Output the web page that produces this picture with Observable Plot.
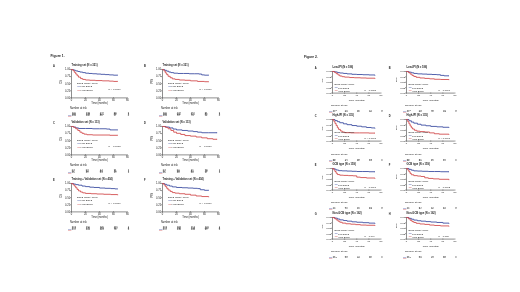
<!DOCTYPE html>
<html><head><meta charset="utf-8">
<script src="https://cdn.jsdelivr.net/npm/d3@7"></script>
<script src="https://cdn.jsdelivr.net/npm/@observablehq/plot@0.6"></script>
<style>
html,body{margin:0;padding:0;background:#fff;}
body{width:520px;height:292px;overflow:hidden;position:relative;font-family:"Liberation Sans",Arial,sans-serif;}
svg{position:absolute;overflow:visible;will-change:transform;}
</style></head><body>
<script>
// ---------- shared labels ----------
const timeTicks = [0, 20, 40, 60, 80];
const survTicks = [0, 0.25, 0.5, 0.75, 1];
const groups = ["Low BCL2", "High BCL2"];
const legendTitle = "BCL2 mRNA score";
const groupColors = ["#3e4fa3", "#d24f50"];
const figureTitles = ["Figure 1.", "Figure 2."];

// ---------- Figure 1 ----------
const fig1Letters = ["A", "B", "C", "D", "E", "F"];
const fig1Titles = ["Training set (N = 321)", "Training set (N = 321)", "Validation set (N = 113)", "Validation set (N = 113)", "Training + Validation set (N = 434)", "Training + Validation set (N = 434)"];
const fig1YLabels = ["OS", "PFS", "OS", "PFS", "OS", "PFS"];
const fig1P = ["P < 0.0001", "P < 0.0001", "P = 0.0075", "P = 0.0066", "P < 0.0001", "P < 0.0001"];

const f1A_low = [[0,1],[2,0.99],[4,0.97],[6,0.95],[9,0.93],[12,0.91],[16,0.89],[20,0.87],[25,0.86],[30,0.85],[36,0.84],[42,0.83],[48,0.82],[54,0.81],[60,0.8],[66,0.8]];
const f1A_high = [[0,1],[2,0.96],[4,0.9],[6,0.84],[8,0.78],[10,0.73],[13,0.68],[16,0.65],[20,0.63],[26,0.62],[34,0.61],[44,0.6],[54,0.59],[60,0.58],[66,0.58]];
const f1B_low = [[0,1],[3,0.97],[6,0.94],[9,0.91],[12,0.89],[16,0.87],[22,0.86],[30,0.86],[38,0.85],[46,0.85],[52,0.84],[56,0.81],[60,0.8],[66,0.8]];
const f1B_high = [[0,1],[2,0.95],[4,0.88],[6,0.82],[8,0.76],[11,0.71],[14,0.67],[18,0.65],[24,0.63],[32,0.62],[40,0.6],[50,0.58],[60,0.57],[66,0.57]];
const f1C_low = [[0,1],[3,0.98],[6,0.95],[10,0.93],[20,0.93],[30,0.92],[40,0.92],[50,0.91],[55,0.88],[66,0.88]];
const f1C_high = [[0,1],[3,0.97],[6,0.92],[9,0.86],[12,0.8],[15,0.76],[18,0.73],[22,0.71],[30,0.7],[45,0.7],[55,0.69],[66,0.69]];
const f1D_low = [[0,1],[5,0.98],[10,0.95],[15,0.91],[20,0.88],[28,0.86],[36,0.84],[44,0.82],[50,0.8],[56,0.78],[66,0.78],[78,0.78]];
const f1D_high = [[0,1],[4,0.97],[8,0.92],[12,0.86],[16,0.8],[20,0.76],[26,0.72],[32,0.68],[40,0.66],[48,0.63],[56,0.6],[64,0.57],[72,0.55],[78,0.55]];
const f1E_low = [[0,1],[3,0.98],[6,0.96],[10,0.94],[15,0.91],[20,0.89],[26,0.87],[32,0.86],[40,0.84],[48,0.83],[56,0.82],[62,0.81],[66,0.81]];
const f1E_high = [[0,1],[2,0.96],[4,0.91],[6,0.85],[8,0.79],[10,0.74],[13,0.7],[16,0.67],[20,0.65],[28,0.64],[36,0.63],[46,0.62],[56,0.61],[66,0.6]];
const f1F_low = [[0,1],[3,0.97],[6,0.94],[10,0.91],[14,0.88],[20,0.86],[28,0.85],[36,0.84],[44,0.83],[50,0.82],[54,0.78],[60,0.76],[66,0.76]];
const f1F_high = [[0,1],[2,0.95],[4,0.89],[6,0.83],[8,0.77],[11,0.72],[14,0.68],[18,0.66],[24,0.64],[32,0.62],[40,0.59],[48,0.56],[56,0.54],[66,0.53]];

const f1A_risk = [[160,138,121,88,3],[161,102,80,57,2]];
const f1B_risk = [[160,132,113,81,3],[161,98,74,52,2]];
const f1C_risk = [[57,52,44,31,1],[56,39,33,19,1]];
const f1D_risk = [[57,50,41,28,1],[56,38,30,17,1]];
const f1E_risk = [[217,190,165,119,4],[217,141,113,76,3]];
const f1F_risk = [[217,182,154,109,4],[217,136,104,69,3]];

// ---------- Figure 2 ----------
const fig2Letters = ["A", "B", "C", "D", "E", "F", "G", "H"];
const fig2Titles = ["Low-IPI (N = 186)", "Low-IPI (N = 186)", "High-IPI (N = 135)", "High-IPI (N = 135)", "GCB type (N = 159)", "GCB type (N = 159)", "Non-GCB type (N = 162)", "Non-GCB type (N = 162)"];
const fig2YLabels = ["OS", "PFS", "OS", "PFS", "OS", "PFS", "OS", "PFS"];
const fig2P = ["P = 0.0021", "P = 0.0096", "P < 0.0001", "P < 0.0001", "P = 0.0017", "P = 0.0002", "P = 0.046", "P = 0.038"];

const f2A_low = [[0,1],[4,0.98],[8,0.95],[12,0.93],[18,0.91],[24,0.89],[32,0.87],[40,0.86],[50,0.85],[60,0.84],[70,0.83]];
const f2A_high = [[0,1],[3,0.96],[6,0.9],[9,0.84],[12,0.79],[16,0.76],[20,0.74],[28,0.72],[36,0.71],[46,0.7],[56,0.69],[70,0.68]];
const f2B_low = [[0,1],[4,0.97],[8,0.94],[12,0.91],[18,0.89],[26,0.88],[34,0.87],[42,0.86],[50,0.85],[56,0.82],[62,0.8],[70,0.8]];
const f2B_high = [[0,1],[3,0.95],[6,0.88],[9,0.82],[12,0.77],[16,0.73],[22,0.7],[30,0.68],[38,0.66],[46,0.64],[56,0.63],[70,0.62]];
const f2C_low = [[0,1],[4,0.95],[8,0.9],[12,0.85],[18,0.8],[24,0.76],[32,0.72],[40,0.69],[48,0.66],[56,0.63],[64,0.61],[70,0.6]];
const f2C_high = [[0,1],[2,0.92],[4,0.82],[6,0.72],[8,0.62],[10,0.54],[13,0.47],[16,0.42],[20,0.39],[30,0.38],[45,0.38],[60,0.37],[70,0.37]];
const f2D_low = [[0,1],[4,0.94],[8,0.88],[12,0.83],[18,0.78],[24,0.74],[32,0.71],[40,0.68],[50,0.66],[60,0.64],[70,0.63]];
const f2D_high = [[0,1],[2,0.9],[4,0.8],[6,0.7],[8,0.62],[10,0.56],[13,0.5],[17,0.46],[22,0.44],[30,0.42],[38,0.38],[46,0.34],[54,0.32],[70,0.31]];
const f2E_low = [[0,1],[3,0.97],[6,0.93],[10,0.9],[16,0.89],[24,0.88],[32,0.87],[40,0.86],[50,0.86],[60,0.85],[70,0.85]];
const f2E_high = [[0,1],[2,0.94],[4,0.86],[6,0.78],[8,0.72],[12,0.69],[18,0.68],[26,0.67],[34,0.66],[40,0.6],[46,0.58],[56,0.56],[70,0.55]];
const f2F_low = [[0,1],[4,0.96],[8,0.92],[12,0.89],[18,0.88],[26,0.87],[36,0.86],[46,0.86],[56,0.85],[70,0.85]];
const f2F_high = [[0,1],[2,0.93],[4,0.85],[6,0.77],[8,0.71],[12,0.67],[18,0.65],[24,0.63],[30,0.57],[36,0.54],[44,0.52],[54,0.5],[70,0.48]];
const f2G_low = [[0,1],[4,0.97],[8,0.93],[12,0.89],[18,0.86],[24,0.83],[32,0.8],[40,0.78],[50,0.76],[60,0.74],[70,0.73]];
const f2G_high = [[0,1],[3,0.95],[6,0.89],[9,0.83],[12,0.78],[16,0.74],[22,0.71],[30,0.69],[38,0.67],[46,0.65],[56,0.64],[70,0.63]];
const f2H_low = [[0,1],[4,0.96],[8,0.92],[12,0.88],[18,0.85],[24,0.83],[32,0.81],[40,0.79],[50,0.77],[60,0.74],[70,0.73]];
const f2H_high = [[0,1],[3,0.94],[6,0.87],[9,0.81],[12,0.77],[16,0.73],[22,0.7],[30,0.68],[38,0.65],[46,0.63],[56,0.61],[70,0.6]];

const f2A_risk = [[107,96,86,64,2],[79,58,50,35,1]];
const f2B_risk = [[107,93,82,60,2],[79,55,46,32,1]];
const f2C_risk = [[53,41,33,22,1],[82,34,27,18,1]];
const f2D_risk = [[53,39,31,20,1],[82,32,24,16,1]];
const f2E_risk = [[99,86,77,57,2],[60,41,34,22,1]];
const f2F_risk = [[99,84,74,54,2],[60,39,31,20,1]];
const f2G_risk = [[61,52,44,30,1],[101,71,58,39,1]];
const f2H_risk = [[61,50,42,28,1],[101,68,54,36,1]];

const fig1Curves = [[f1A_low,f1A_high],[f1B_low,f1B_high],[f1C_low,f1C_high],[f1D_low,f1D_high],[f1E_low,f1E_high],[f1F_low,f1F_high]];
const fig1Risk = [f1A_risk,f1B_risk,f1C_risk,f1D_risk,f1E_risk,f1F_risk];
const fig2Curves = [[f2A_low,f2A_high],[f2B_low,f2B_high],[f2C_low,f2C_high],[f2D_low,f2D_high],[f2E_low,f2E_high],[f2F_low,f2F_high],[f2G_low,f2G_high],[f2H_low,f2H_high]];
const fig2Risk = [f2A_risk,f2B_risk,f2C_risk,f2D_risk,f2E_risk,f2F_risk,f2G_risk,f2H_risk];

// ---------- drawing ----------
const FONT = "'Liberation Sans', Arial, sans-serif";
const color = {domain: groups, range: groupColors};
const INK = "#1a1a1a";

function place(svg, x, y) {
  svg.style.left = x + "px";
  svg.style.top = y + "px";
  svg.style.maxWidth = "none";
  document.body.appendChild(svg);
}

function drawPanel(o) {
  const L = o.geom;
  const ml = 16, mr = 5, mt = 8, mb = 9;
  const lines = [];
  o.curves.forEach((c, gi) => c.forEach(([t, s]) => lines.push({t, s, g: groups[gi]})));
  const T = (txt, opts) => Plot.text([txt], {frameAnchor: "top-left", lineAnchor: "middle", textAnchor: "start", fill: INK, ...opts});
  const extra = [];
  if (o.figTitle) extra.push(T(o.figTitle, {dx: L.figDx, dy: L.figDy, fontWeight: "bold", fontSize: L.figFs}));
  const km = Plot.plot({
    width: L.w + ml + mr, height: L.h + mt + mb,
    marginLeft: ml, marginRight: mr, marginTop: mt, marginBottom: mb,
    style: {fontSize: L.fs + "px", fontFamily: FONT, background: "transparent", color: INK, overflow: "visible"},
    x: {domain: [0, 80]},
    y: {domain: [0, 1]},
    color,
    marks: [
      Plot.axisX({ticks: timeTicks, tickSize: 0.9, tickPadding: 0.5, label: null, fontSize: L.fs, strokeWidth: 0.5}),
      Plot.axisY({ticks: survTicks, tickFormat: ".2f", tickSize: 0.9, tickPadding: 0.5, label: null, fontSize: L.fs, strokeWidth: 0.5}),
      Plot.ruleX([0], {strokeWidth: 0.5}),
      Plot.ruleY([0], {strokeWidth: 0.5}),
      Plot.line(lines, {x: "t", y: "s", z: "g", stroke: "g", curve: "step-after", strokeWidth: 0.9}),
      T("Time (months)", {frameAnchor: "bottom", textAnchor: "middle", dy: L.timeDy, fontSize: L.fs}),
      Plot.text([o.ylab], {frameAnchor: "left", dx: -L.ylabDx, rotate: -90, fontSize: L.fs, fill: INK}),
      T(o.title, {dy: -L.titleDy, fontWeight: "bold", fontSize: L.titleFs}),
      T(o.letter, {dx: -L.letterDx, dy: -L.titleDy + 1.5, fontWeight: "bold", fontSize: L.titleFs}),
      T(legendTitle, {dx: L.legDx, dy: L.legDy, fontSize: L.legFs}),
      T("—", {dx: L.legDx + 0.3, dy: L.legDy + L.legGap, fill: groupColors[0], fontWeight: "bold", fontSize: L.legFs * 1.2}),
      T(groups[0], {dx: L.legDx + 3.6, dy: L.legDy + L.legGap, fontSize: L.legFs}),
      T("—", {dx: L.legDx + 0.3, dy: L.legDy + 2 * L.legGap, fill: groupColors[1], fontWeight: "bold", fontSize: L.legFs * 1.2}),
      T(groups[1], {dx: L.legDx + 3.6, dy: L.legDy + 2 * L.legGap, fontSize: L.legFs}),
      T(o.p, {dx: L.pDx, dy: L.pDy, fontSize: L.legFs}),
      ...extra
    ]
  });
  place(km, o.left - ml, o.top - mt);

  // risk table
  const risk = [];
  o.risk.forEach((row, gi) => row.forEach((n, i) => risk.push({t: timeTicks[i], n, g: groups[gi]})));
  const rh = L.riskRow2 + 3;
  const rt = Plot.plot({
    width: L.w + ml + mr, height: rh,
    marginLeft: ml, marginRight: mr, marginTop: 0, marginBottom: 0,
    style: {fontSize: L.fs + "px", fontFamily: FONT, background: "transparent", color: INK, overflow: "visible"},
    x: {domain: [0, 80], axis: null},
    y: {type: "point", domain: groups, range: [L.riskRow1, L.riskRow2], axis: null},
    color,
    marks: [
      Plot.text(["Number at risk"], {frameAnchor: "top-left", lineAnchor: "middle", dx: -1.5, dy: L.riskTitleDy, textAnchor: "start", fontSize: L.fs, fill: INK}),
      Plot.text(groups, {y: d => d, frameAnchor: "left", dx: -3.6, text: () => "—", fill: d => d, fontWeight: "bold", fontSize: L.fs * 1.3}),
      Plot.text(risk, {x: "t", y: "g", text: "n", textAnchor: "start", dx: 0.2, fontSize: L.fs, fill: INK})
    ]
  });
  place(rt, o.left - ml, o.top + L.h + L.riskGap);
}

const geom1 = {w: 56, h: 28.4, fs: 2.6, titleFs: 2.6, figFs: 3.4, figDx: -21, figDy: -13.5,
  timeDy: 5.4, ylabDx: 10, titleDy: 4.6, letterDx: 18.6,
  legDx: 5.5, legDy: 13.8, legGap: 3.2, legFs: 2.5, pDx: 37, pDy: 19.8,
  riskGap: 8.4, riskTitleDy: 1.6, riskRow1: 6.6, riskRow2: 9.6};
const geom2 = {w: 48.5, h: 21.6, fs: 2.55, titleFs: 2.6, figFs: 3.3, figDx: -28.5, figDy: -14.8,
  timeDy: 6.8, ylabDx: 10, titleDy: 4.8, letterDx: 17.7,
  legDx: 2, legDy: 13.2, legGap: 3.2, legFs: 2.4, pDx: 32, pDy: 18.6,
  riskGap: 10.5, riskTitleDy: 1.8, riskRow1: 5.8, riskRow2: 8.8};

const fig1Lefts = [71.3, 161.7];
const fig1Tops = [69.3, 126.3, 183.3];
fig1Letters.forEach((letter, i) => {
  drawPanel({geom: geom1, left: fig1Lefts[i % 2], top: fig1Tops[Math.floor(i / 2)],
    letter, title: fig1Titles[i], ylab: fig1YLabels[i], p: fig1P[i],
    curves: fig1Curves[i], risk: fig1Risk[i], figTitle: i === 0 ? figureTitles[0] : null});
});

const fig2Lefts = [331.7, 406];
const fig2Tops = [70.7, 119.4, 168.1, 216.8];
fig2Letters.forEach((letter, i) => {
  drawPanel({geom: geom2, left: fig2Lefts[i % 2], top: fig2Tops[Math.floor(i / 2)],
    letter, title: fig2Titles[i], ylab: fig2YLabels[i], p: fig2P[i],
    curves: fig2Curves[i], risk: fig2Risk[i], figTitle: i === 0 ? figureTitles[1] : null});
});
</script>
</body></html>
